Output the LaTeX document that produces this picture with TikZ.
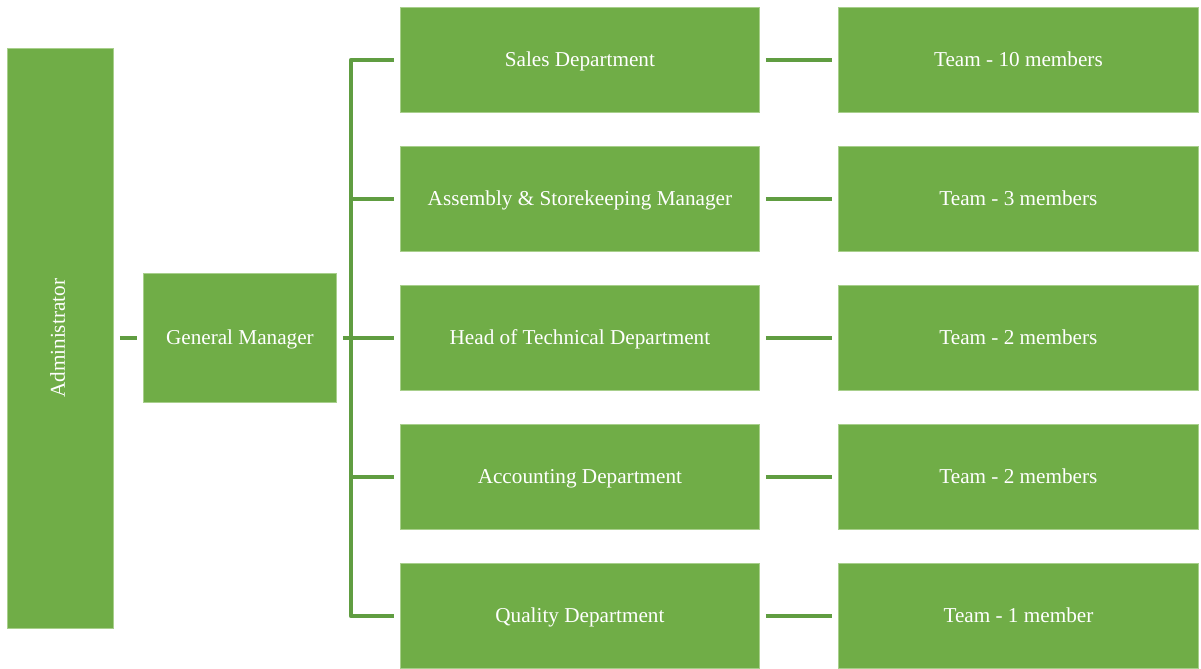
\documentclass[tikz,border=0pt]{standalone}
\usepackage{fontspec}
\setmainfont{Liberation Serif}
\definecolor{boxgreen}{HTML}{70AD47}
\definecolor{edgegreen}{HTML}{A8CF8C}
\definecolor{linegreen}{HTML}{609D41}
\begin{document}
\begin{tikzpicture}[x=0.75pt,y=-0.75pt,
  boxtext/.style={text=white,font=\fontsize{15.9}{19}\selectfont,
    text height=2.4ex,text depth=0.4ex},
  orgbox/.style={boxtext,fill=boxgreen,draw=edgegreen,line width=0.6pt,
    inner sep=0pt,anchor=north west},
  conn/.style={draw=linegreen,line width=3.4pt,line join=round}]
\useasboundingbox (0,0) rectangle (1201,668);
% boxes
\node[orgbox,minimum width=106*0.75pt,minimum height=580*0.75pt] (adm) at (7,48) {};
\node[boxtext,rotate=90,inner sep=0pt,text height=1.9ex,text depth=0.45ex] (admt) at (adm.center) {Administrator};
\node[orgbox,minimum width=193*0.75pt,minimum height=129*0.75pt] (gm) at (143,273) {General Manager};
\foreach \i/\y/\d/\t in {1/7/Sales Department/Team - 10 members,
  2/146/Assembly \& Storekeeping Manager/Team - 3 members,
  3/285/Head of Technical Department/Team - 2 members,
  4/424/Accounting Department/Team - 2 members,
  5/563/Quality Department/Team - 1 member}{
  \node[orgbox,minimum width=359*0.75pt,minimum height=105*0.75pt] (d\i) at (400,\y) {\d};
  \node[orgbox,minimum width=360*0.75pt,minimum height=105*0.75pt] (t\i) at (838,\y) {\t};
}
% connectors
\coordinate (a2) at ([xshift=-6*0.75pt]gm.west);
\coordinate (a1) at ([xshift=6*0.75pt]adm.east |- a2);
\draw[conn] (a1) -- (a2);
\coordinate (g1) at ([xshift=6*0.75pt]gm.east);
\coordinate (busx) at (351,0);
\coordinate (bus) at (busx |- g1);
\draw[conn] (g1) -- (bus);
\coordinate (top) at (busx |- d1.west);
\coordinate (bot) at (busx |- d5.west);
\draw[conn] ([xshift=-6*0.75pt]d1.west) -- (top) -- (bot) -- ([xshift=-6*0.75pt]d5.west);
\foreach \i in {2,3,4}{
  \draw[conn] (busx |- d\i.west) -- ([xshift=-6*0.75pt]d\i.west);
}
\foreach \i in {1,...,5}{
  \draw[conn] ([xshift=6*0.75pt]d\i.east) -- ([xshift=-6*0.75pt]t\i.west);
}
\end{tikzpicture}
\end{document}
